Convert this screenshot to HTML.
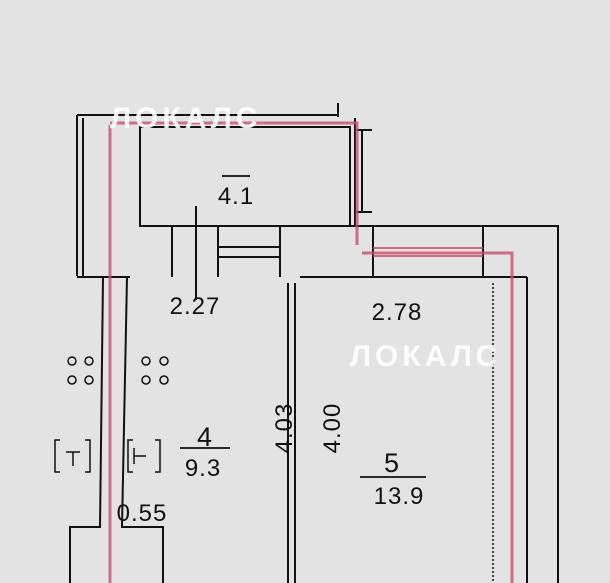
<!DOCTYPE html><html><head><style>body{margin:0;background:#e3e3e3}svg{display:block}</style></head><body>
<svg width="610" height="583" viewBox="0 0 610 583" xmlns="http://www.w3.org/2000/svg" font-family="Liberation Sans, sans-serif">
<rect width="610" height="583" fill="#e3e3e3"/>
<g stroke="#111" stroke-width="2" fill="none">
<path d="M77 115H338M338 103V117"/>
<path d="M77 115V276M83 118V276"/>
<rect x="140" y="127" width="210" height="99"/>
<path d="M355 118V226M362 130V212M356 130H372M356 212H372"/>
<path d="M140 226H558V277M77 277H130M300 277H527M527 277V583M558 277V583"/>
<path d="M172 226V277M218 226V277M280 226V277M218 247H280M218 257H280M373 226V277M483 226V277"/>
<path d="M196 206V300"/>
<path d="M103 277L100 527H70V583M127 277L122 527H163V583"/>
<path d="M288 283V583M295 283V583"/>
<path d="M493 283V583" stroke-dasharray="2 2" stroke-width="1.5"/>
<path d="M180 448H230M360 477H426M222 176H250" stroke-width="1.8"/>
</g>
<g stroke="#c8506a" stroke-width="3" fill="none" opacity="0.8">
<path d="M110 125V583M110 123H357V245M362 253H512V583"/>
<path d="M373 248H483M373 256H483" stroke-width="2"/>
</g>
<g font-size="24" fill="#111" letter-spacing="1">
<text x="195" y="314" text-anchor="middle">2.27</text>
<text x="397" y="320" text-anchor="middle">2.78</text>
<text x="236" y="204" text-anchor="middle">4.1</text>
<text x="205" y="446" text-anchor="middle" font-size="27">4</text>
<text x="203" y="476" text-anchor="middle">9.3</text>
<text x="392" y="472" text-anchor="middle" font-size="27">5</text>
<text x="399" y="504" text-anchor="middle">13.9</text>
<text x="142" y="521" text-anchor="middle">0.55</text>
<text transform="translate(292,428) rotate(-90)" text-anchor="middle">4.03</text>
<text transform="translate(340,428) rotate(-90)" text-anchor="middle">4.00</text>
</g>
<g fill="none" stroke="#111" stroke-width="1.5">
<circle cx="72" cy="361" r="4"/><circle cx="89" cy="361" r="4"/><circle cx="72" cy="380" r="4"/><circle cx="89" cy="380" r="4"/>
<circle cx="146" cy="361" r="4"/><circle cx="164" cy="361" r="4"/><circle cx="146" cy="380" r="4"/><circle cx="164" cy="380" r="4"/>
<path d="M60 440h-5v32h5M85 440h5v32h-5M66 452h14M73 452v14"/>
<path d="M133 440h-5v32h5M155 440h5v32h-5M134 456h12M134 448v16"/>
</g>
<g font-size="30" font-weight="bold" fill="#fff" opacity="0.9" letter-spacing="4">
<text x="110" y="128">ЛОКАЛС</text>
<text x="350" y="366">ЛОКАЛС</text>
</g>
</svg></body></html>
